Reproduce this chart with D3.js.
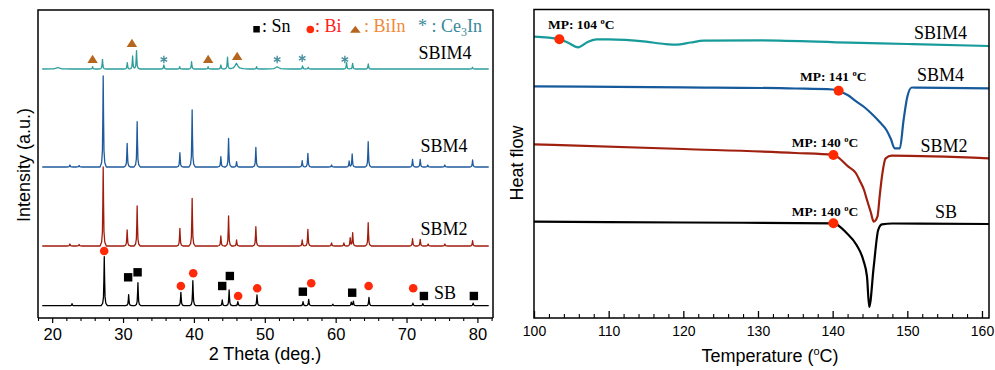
<!DOCTYPE html>
<html><head><meta charset="utf-8">
<script src="https://cdn.jsdelivr.net/npm/d3@7"></script>
<style>body{margin:0;background:#fff}</style>
</head><body>
<svg id="c" width="995" height="370"></svg>
<script>
// ---------------- XRD data (2θ in degrees, intensity in a.u.) ----------------
const xrdSeries = ["SB", "SBM2", "SBM4", "SBIM4"];
const xrdOffsets = [12.3, 72, 151, 249];
const peaksSB = [[22.8,2],[27.35,49],[30.79,11],[32.1,23],[38.16,13.4],[39.85,25],[44.0,5.7],[44.97,15.7],[46.2,4],[48.9,10.7],[55.4,4],[56.2,6.4],[59.6,1.5],[62.2,3.5],[62.5,4.5],[64.7,8.4],[70.9,2.5],[72.3,2],[79.4,2.5]];
const peaksSBM2 = [[22.5,2],[23.8,1.5],[27.2,79],[30.58,16],[31.99,40],[38.02,17.7],[39.75,47.7],[43.8,10],[44.89,30],[46.02,6],[48.74,19.3],[55.28,6],[56.08,16.7],[59.42,3],[61.16,3],[62.05,8],[62.4,13.3],[64.59,23.3],[70.85,7.3],[71.93,6.7],[73.05,2],[75.41,2],[79.32,5.3]];
const peaksSBM4 = [[22.5,2],[23.8,1.5],[27.2,91],[30.58,23.7],[31.99,45.3],[38.02,14.3],[39.75,57],[43.8,10.3],[44.89,28.7],[46.02,5.3],[48.74,19.7],[55.28,6.3],[56.08,13.7],[59.42,2],[61.9,6],[62.33,13],[64.59,25.3],[70.85,7.7],[71.93,7.7],[73.0,2],[75.4,2],[79.32,7]];
const peaksSBIM4 = [[20.8,1.5,0.5],[25.7,2.3],[27.1,9.7],[30.6,6.3],[31.35,13],[31.9,18.3],[35.76,4],[38.0,2.3],[39.67,7.3],[42.0,2.3],[43.8,4],[44.74,11.7],[46.0,5.7,0.45],[48.84,2.3],[51.75,2.3,0.5],[55.33,3],[56.13,1.7],[61.54,6.3],[62.39,5.7],[64.6,5],[79.3,1.7]];
const xrdPeaks = [peaksSB, peaksSBM2, peaksSBM4, peaksSBIM4];
const xrdColors = ["#000000", "#a01d0e", "#1f5b9c", "#2a9d9a"];

// phase markers: [phase, 2θ, intensity level]
const markersSB = [["Bi",27.34,67],["Sn",30.72,40.7],["Sn",32.05,45.7],["Bi",38.16,32],["Bi",39.9,44.7],["Sn",43.99,32],["Sn",45.07,42],["Bi",46.24,22],["Bi",48.93,29.7],["Sn",55.37,26.3],["Bi",56.55,34.7],["Sn",62.33,25.3],["Bi",64.65,32],["Bi",70.94,29.7],["Sn",72.45,22],["Sn",79.5,22]];
const markersSBIM4 = [["BiIn",25.7,259],["BiIn",31.25,275],["BiIn",42.01,259],["BiIn",46.1,262],["Ce3In",35.76,258.5],["Ce3In",51.75,258.5],["Ce3In",55.28,259.7],["Ce3In",61.3,258.5]];
const xrdTicks = [20, 30, 40, 50, 60, 70, 80];

// ---------------- DSC data (temperature °C, heat flow a.u.) ----------------
const dscSeries = ["SB", "SBM2", "SBM4", "SBIM4"];
const dscSB = [[100,9.63],[120,9.55],[140.1,9.47],[141.9,8.47],[143.2,7.3],[144.1,5.8],[144.6,4.13],[144.9,1.1],[145.5,5.13],[146.1,8.8],[146.6,9.37],[148,9.45],[161,9.4]];
const dscSBM2 = [[100,17.37],[120,16.9],[135,16.5],[140.1,16.3],[142.1,15.13],[143.1,14.5],[143.7,13.63],[144.2,12.8],[144.6,11.8],[145.1,10.6],[145.5,9.63],[146.0,10.13],[146.3,12.2],[146.6,14.13],[147.1,15.97],[147.9,16.23],[161,15.97]];
const dscSBM4 = [[100,23.17],[120,23.07],[135,22.95],[140,22.85],[140.8,22.69],[142,22.3],[143.2,21.63],[144.3,21.05],[145.4,20.3],[146.3,19.6],[147.2,18.8],[147.8,17.9],[148.3,16.97],[149.0,16.97],[149.5,19.8],[150.0,22.13],[150.6,23.05],[151.5,23.03],[161,22.97]];
const dscSBIM4 = [[100,28.13],[103.4,27.87],[104.5,27.55],[105.9,27.07],[107.2,27.6],[108.4,27.87],[110,27.87],[115,27.63],[117.5,27.4],[119.1,27.33],[121,27.55],[122.7,27.73],[130.2,27.77],[142.3,27.53],[150,27.4],[161,27.2]];
const dscData = [dscSB, dscSBM2, dscSBM4, dscSBIM4];
const dscColors = ["#000000", "#a0200f", "#165a9c", "#179a9a"];
const mpPoints = [[140.1,9.47],[140.1,16.3],[140.8,22.72],[103.4,27.87]];
const mpLabels = ["MP: 140 ", "MP: 140 ", "MP: 141 ", "MP: 104 "];
const dscTicks = [100, 110, 120, 130, 140, 150, 160];

// ---------------- drawing ----------------
const svg = d3.select("#c");
const serif = "'Liberation Serif','Times New Roman',serif";
const sans = "'Liberation Sans',Arial,sans-serif";

// ===== Left panel: XRD =====
const L = {l:38, r:493, t:10, b:318};
const xX = d3.scaleLinear().domain([18, 82.2]).range([L.l, L.r]);
const yX = d3.scaleLinear().domain([0, 308]).range([L.b, L.t]);

const tpl = [[-4,0],[-2,0.05],[-1,0.18],[-0.45,0.55],[0,1],[0.45,0.55],[1,0.18],[2,0.05],[4,0]];
function tplVal(t){
  if (t <= tpl[0][0] || t >= tpl[tpl.length-1][0]) return 0;
  for (let i=1;i<tpl.length;i++){
    if (t <= tpl[i][0]){
      const a=tpl[i-1], b=tpl[i];
      return a[1] + (b[1]-a[1])*(t-a[0])/(b[0]-a[0]);
    }
  }
  return 0;
}
function profile(peaks, offset){
  const xs = [18.6, 81.6];
  peaks.forEach(p => { const w = p[2] || 0.11; tpl.forEach(q => xs.push(p[0] + q[0]*w)); });
  xs.sort((a,b)=>a-b);
  return xs.map(x => {
    let v = offset;
    peaks.forEach(p => { const w = p[2] || 0.11; v += p[1]*tplVal((x-p[0])/w); });
    return [x, v];
  });
}
const lineX = d3.line().x(d=>xX(d[0])).y(d=>yX(d[1]));
xrdSeries.forEach((s,i) => {
  svg.append("path").attr("d", lineX(profile(xrdPeaks[i], xrdOffsets[i])))
    .attr("fill","none").attr("stroke", xrdColors[i]).attr("stroke-width",1.3).attr("stroke-linejoin","round");
});

const colSn = "#000", colBi = "#ff2a0a", colBiIn = "#b5651d", colCe = "#4a90a0";
function drawMarker(g, type, cx, cy){
  if (type === "Sn") g.append("rect").attr("x",cx-4.2).attr("y",cy-4.2).attr("width",8.4).attr("height",8.4).attr("fill",colSn);
  else if (type === "Bi") g.append("circle").attr("cx",cx).attr("cy",cy).attr("r",4.3).attr("fill",colBi);
  else if (type === "BiIn") g.append("path").attr("d",`M${cx-5.2},${cy+4}L${cx+5.2},${cy+4}L${cx},${cy-4.3}Z`).attr("fill",colBiIn);
  else g.append("path").attr("transform",`translate(${cx},${cy})`).attr("d", d3.symbol(d3.symbolAsterisk, 40)())
        .attr("fill","none").attr("stroke",colCe).attr("stroke-width",1.4);
}
const gm = svg.append("g");
markersSB.concat(markersSBIM4).forEach(m => drawMarker(gm, m[0], xX(m[1]), yX(m[2])));

// frame
svg.append("path").attr("d",`M${L.l},${L.b}V${L.t}H${L.r}V${L.b}`).attr("fill","none").attr("stroke","#000").attr("stroke-width",1.5);
const axL = svg.append("g").attr("transform",`translate(0,${L.b})`)
  .call(d3.axisBottom(xX).tickValues(xrdTicks).tickSize(5).tickSizeOuter(0).tickPadding(5.3).tickFormat(d3.format("d")));
axL.select(".domain").remove();
axL.selectAll(".tick line").attr("stroke-width",1.2);
axL.selectAll("text").attr("font-family",sans).attr("font-size",16.5).attr("fill","#000");
const axLm = svg.append("g").attr("transform",`translate(0,${L.b})`)
  .call(d3.axisBottom(xX).tickValues(d3.range(18,83,2).filter(v=>v%10!==0)).tickSize(3).tickSizeOuter(0).tickFormat(""));
axLm.select(".domain").remove();
axLm.selectAll(".tick line").attr("stroke-width",1.1);
svg.append("line").attr("x1",L.l).attr("x2",L.r).attr("y1",L.b).attr("y2",L.b).attr("stroke","#000").attr("stroke-width",1.5);

svg.append("text").attr("x",265).attr("y",360).attr("text-anchor","middle").attr("font-family",sans).attr("font-size",18).text("2 Theta (deg.)");
svg.append("text").attr("transform","translate(30,165) rotate(-90)").attr("text-anchor","middle").attr("font-family",sans).attr("font-size",18).text("Intensity (a.u.)");

// series labels
const xrdLabelPos = [[445,298.5],[444,234.5],[444,151.5],[445,58.5]];
xrdSeries.forEach((s,i)=>{
  svg.append("text").attr("x",xrdLabelPos[i][0]).attr("y",xrdLabelPos[i][1]).attr("text-anchor","middle")
    .attr("font-family",serif).attr("font-size",18).text(s);
});

// legend
const lg = svg.append("g").attr("font-family",serif).attr("font-size",18);
lg.append("rect").attr("x",253.3).attr("y",26).attr("width",6.5).attr("height",6.5).attr("fill",colSn);
lg.append("text").attr("x",262).attr("y",31.7).attr("fill","#000").text(": Sn");
lg.append("circle").attr("cx",310.3).attr("cy",29.5).attr("r",3.8).attr("fill",colBi);
lg.append("text").attr("x",315).attr("y",31.7).attr("fill","#ff2020").text(": Bi");
lg.append("path").attr("d","M350,32.7L360.7,32.7L355.3,25.8Z").attr("fill",colBiIn);
lg.append("text").attr("x",364).attr("y",31.7).attr("fill","#f08a3a").text(": BiIn");
const ct = lg.append("text").attr("x",418).attr("y",31.7).attr("fill","#3b8898");
ct.append("tspan").text("* : Ce");
ct.append("tspan").attr("font-size",12).attr("dy",4).text("3");
ct.append("tspan").attr("dy",-4).text("In");

// ===== Right panel: DSC =====
const R = {l:534, r:989, t:9.5, b:318};
const xD = d3.scaleLinear().domain([100, 160.94]).range([R.l, R.r]);
const yD = d3.scaleLinear().domain([0, 30.85]).range([R.b, R.t]);
const lineD = d3.line().x(d=>xD(d[0])).y(d=>yD(d[1])).curve(d3.curveMonotoneX);
svg.append("clipPath").attr("id","cr").append("rect").attr("x",R.l).attr("y",R.t).attr("width",R.r-R.l).attr("height",R.b-R.t);
dscSeries.forEach((s,i)=>{
  svg.append("path").attr("d",lineD(dscData[i])).attr("clip-path","url(#cr)")
    .attr("fill","none").attr("stroke",dscColors[i]).attr("stroke-width",2.2).attr("stroke-linejoin","round");
});
mpPoints.forEach(p=>{
  svg.append("circle").attr("cx",xD(p[0])).attr("cy",yD(p[1])).attr("r",5).attr("fill","#ff2a00");
});
const mpPos = [[791.7,216],[791.7,147],[800,80.5],[548,28.6]];
mpLabels.forEach((t,i)=>{
  const tx = svg.append("text").attr("x",mpPos[i][0]).attr("y",mpPos[i][1]).attr("font-family",serif)
    .attr("font-weight","bold").attr("font-size",13.5).attr("fill","#000");
  tx.append("tspan").text(t);
  tx.append("tspan").attr("font-size",8.5).attr("dy",-5).text("o");
  tx.append("tspan").attr("dy",5).text("C");
});
const dscLabelPos = [[946,218],[944,151.5],[940.5,80.5],[940.5,38.5]];
dscSeries.forEach((s,i)=>{
  svg.append("text").attr("x",dscLabelPos[i][0]).attr("y",dscLabelPos[i][1]).attr("text-anchor","middle")
    .attr("font-family",serif).attr("font-size",18).text(s);
});
svg.append("rect").attr("x",R.l).attr("y",R.t).attr("width",R.r-R.l).attr("height",R.b-R.t).attr("fill","none").attr("stroke","#000").attr("stroke-width",1.5);
const axR = svg.append("g").attr("transform",`translate(0,${R.b})`)
  .call(d3.axisBottom(xD).tickValues(dscTicks).tickSize(-7).tickSizeOuter(0).tickPadding(8.5).tickFormat(d3.format("d")));
axR.select(".domain").remove();
axR.selectAll(".tick line").attr("stroke-width",1.3);
axR.selectAll("text").attr("font-family",sans).attr("font-size",14).attr("fill","#000");
const axRm = svg.append("g").attr("transform",`translate(0,${R.b})`)
  .call(d3.axisBottom(xD).tickValues(d3.range(102,161,2).filter(v=>v%10!==0)).tickSize(-4).tickSizeOuter(0).tickFormat(""));
axRm.select(".domain").remove();
axRm.selectAll(".tick line").attr("stroke-width",1.1);

const tl = svg.append("text").attr("x",770).attr("y",362).attr("text-anchor","middle").attr("font-family",sans).attr("font-size",18);
tl.append("tspan").text("Temperature (");
tl.append("tspan").attr("font-size",11).attr("dy",-7).text("o");
tl.append("tspan").attr("dy",7).text("C)");
svg.append("text").attr("transform","translate(523,163) rotate(-90)").attr("text-anchor","middle").attr("font-family",sans).attr("font-size",18).text("Heat flow");
</script>
</body></html>
